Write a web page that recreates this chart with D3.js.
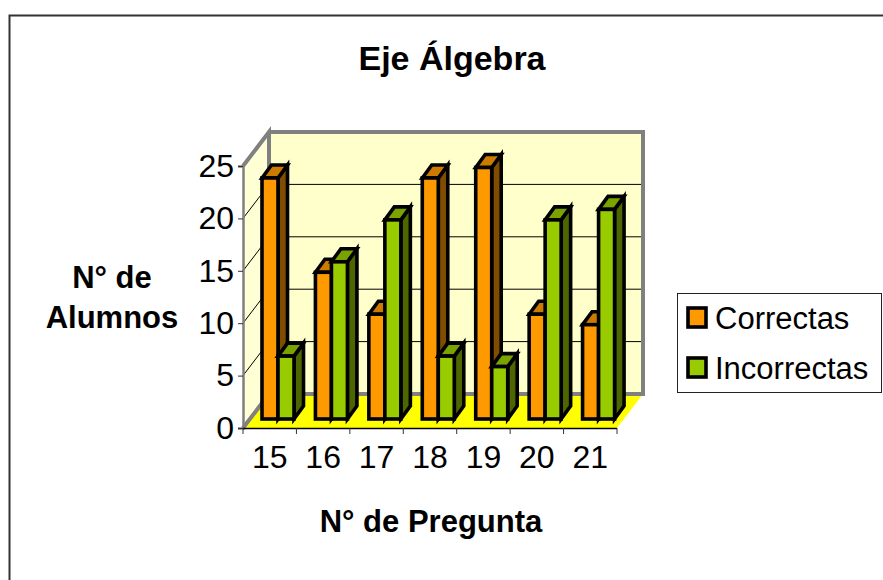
<!DOCTYPE html>
<html><head><meta charset="utf-8">
<script src="https://cdn.jsdelivr.net/npm/d3@7"></script>
<style>html,body{margin:0;padding:0;background:#fff}svg{display:block}text{font-family:"Liberation Sans",Arial,sans-serif;fill:#000}</style>
</head><body><svg id="c" width="883" height="580"></svg>
<script>
const categories = ["15","16","17","18","19","20","21"];
const correctas = [23,14,10,23,24,10,9];
const incorrectas = [6,15,19,6,5,19,20];
const seriesNames = ["Correctas","Incorrectas"];
const yTicks = [0,5,10,15,20,25];
const gridTicks = [5,10,15,20];
const titleText = "Eje Álgebra";
const xTitle = "N° de Pregunta";
const yTitle = ["N° de","Alumnos"];

const svg = d3.select("#c");
const W = 883, H = 580;
const left = 243, right = 617, zero = 428, top25 = 166;
const dX = 26, dY = -34;
const barOffX = 19, barW = 16, barBase = 419, depX = 9.5, depY = -13;
const x = d3.scaleBand().domain(categories).range([left,right]);
const y = d3.scaleLinear().domain([0,25]).range([zero,top25]);
const yBar = d3.scaleLinear().domain([0,25]).range([barBase,barBase-(zero-top25)]);
const line = d3.line();

svg.append("rect").attr("x",9.5).attr("y",15.5).attr("width",W+20).attr("height",H+20)
  .attr("fill","#fff").attr("stroke","#333").attr("stroke-width",2);

// walls and floor
const g = svg.append("g");
g.append("path").attr("d",line([[left,y(25)],[left+dX,y(25)+dY],[left+dX,zero+dY],[left,zero]])+"Z").attr("fill","#ffffd6");
g.append("rect").attr("x",left+dX).attr("y",y(25)+dY).attr("width",right-left).attr("height",zero-top25).attr("fill","#ffffcc");
g.append("path").attr("d",line([[left,zero],[right,zero],[right+dX,zero+dY],[left+dX,zero+dY]])+"Z").attr("fill","#ffff00");

// gridlines
gridTicks.forEach(t=>{
  g.append("path").attr("d",line([[left,y(t)],[left+dX,y(t)+dY],[right+dX,y(t)+dY]]))
    .attr("fill","none").attr("stroke","#000").attr("stroke-width",1);
});
// wall edges
g.append("path").attr("d",line([[left,zero],[left+dX,zero+dY],[left+dX,y(25)+dY],[left,y(25)]]))
  .attr("fill","none").attr("stroke","#808080").attr("stroke-width",4);
g.append("path").attr("d",line([[left+dX,y(25)+dY],[right+dX,y(25)+dY],[right+dX,zero+dY],[left+dX,zero+dY]]))
  .attr("fill","none").attr("stroke","#808080").attr("stroke-width",4);

// axes
const yAxis = d3.axisLeft(y).tickValues(yTicks).tickSize(5);
const ya = svg.append("g").attr("transform",`translate(${left},0)`).call(yAxis);
ya.select(".domain").attr("stroke","#808080").attr("stroke-width",2.5);
ya.selectAll(".tick line").attr("stroke","#333");
ya.selectAll("text").attr("font-size",32).attr("x",-9).attr("font-family","Liberation Sans");

const xAxis = d3.axisBottom(x).tickSize(0).tickPadding(17);
const xa = svg.append("g").attr("transform",`translate(0,${zero})`).call(xAxis);
xa.select(".domain").remove();
xa.selectAll("text").attr("font-size",32).attr("font-family","Liberation Sans");
svg.append("path").attr("d",line([[left,zero+.5],[right,zero+.5]])).attr("stroke","#000").attr("stroke-width",1.5);
svg.append("g").selectAll("line").data(categories.concat(["end"])).join("line")
  .attr("x1",(d,i)=>left+i*x.bandwidth()).attr("x2",(d,i)=>left+i*x.bandwidth())
  .attr("y1",zero).attr("y2",zero+6).attr("stroke","#333");

// bars
const orange = {f:"#ff9900",t:"#cc7a00",s:"#7f4c00"};
const green = {f:"#99cc00",t:"#7aa300",s:"#4d6600"};
function bar(px,v,col){
  const t = yBar(v), b = barBase, r = px+barW;
  const gb = svg.append("g").attr("stroke","#000").attr("stroke-width",3.6).attr("stroke-linejoin","miter");
  gb.append("path").attr("d",line([[r,t],[r+depX,t+depY],[r+depX,b+depY],[r,b]])+"Z").attr("fill",col.s);
  gb.append("path").attr("d",line([[px,t],[px+depX,t+depY],[r+depX,t+depY],[r,t]])+"Z").attr("fill",col.t);
  gb.append("rect").attr("x",px).attr("y",t).attr("width",barW).attr("height",b-t).attr("fill",col.f);
}
categories.forEach((c,i)=>{
  const px = x(c)+barOffX;
  bar(px,correctas[i],orange);
  bar(px+barW,incorrectas[i],green);
});

// titles
svg.append("text").attr("x",452).attr("y",70).attr("text-anchor","middle").attr("font-size",34).attr("font-weight","bold").text(titleText);
svg.append("text").attr("x",431).attr("y",532).attr("text-anchor","middle").attr("font-size",31).attr("font-weight","bold").text(xTitle);
yTitle.forEach((t,i)=>svg.append("text").attr("x",112).attr("y",288+i*40).attr("text-anchor","middle").attr("font-size",31).attr("font-weight","bold").text(t));

// legend
svg.append("rect").attr("x",677.5).attr("y",293.5).attr("width",204).attr("height",99).attr("fill","#fff").attr("stroke","#222").attr("stroke-width",1);
[orange,green].forEach((col,i)=>{
  svg.append("rect").attr("x",688).attr("y",308+i*50).attr("width",18).attr("height",19).attr("fill",col.f).attr("stroke","#000").attr("stroke-width",3.6);
  svg.append("text").attr("x",715).attr("y",329+i*50).attr("font-size",31).text(seriesNames[i]);
});
</script></body></html>
